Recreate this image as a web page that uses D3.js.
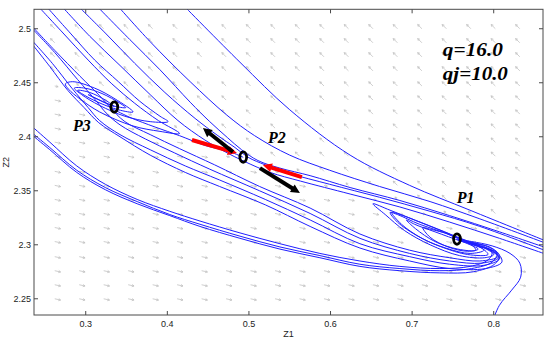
<!DOCTYPE html>
<html>
<head>
<meta charset="utf-8">
<script src="https://cdn.jsdelivr.net/npm/d3@7"></script>
<style>
    body { margin: 0; background: #fff; }
    svg { display: block; }
</style>
</head>
<body>
<div id="chart"></div>
<script>
// axes
const xDomain = [0.2366, 0.8604];
const yDomain = [2.235, 2.518];
const xTicks = [0.3, 0.4, 0.5, 0.6, 0.7, 0.8];
const xTickLabels = ["0.3", "0.4", "0.5", "0.6", "0.7", "0.8"];
const yTicks = [2.25, 2.3, 2.35, 2.4, 2.45, 2.5];
const yTickLabels = ["2.25", "2.3", "2.35", "2.4", "2.45", "2.5"];

// equilibrium points and their labels
const eqZ1 = [0.335, 0.493, 0.755];
const eqZ2 = [2.4275, 2.3812, 2.3053];
const eqNames = ["P3", "P2", "P1"];
const eqLabelZ1 = [0.2844, 0.5233, 0.7548];
const eqLabelZ2 = [2.4052, 2.3942, 2.3386];

// parameter text
const paramText = ["q=16.0", "qj=10.0"];
const paramZ1 = [0.7377, 0.7377];
const paramZ2 = [2.4747, 2.4525];

// quiver grid
const gridZ1 = [0.262, 0.292, 0.322, 0.352, 0.382, 0.412, 0.442, 0.472, 0.502, 0.532,
                0.562, 0.592, 0.622, 0.652, 0.682, 0.712, 0.742, 0.772, 0.802, 0.832];
const gridZ2 = [2.250, 2.263, 2.276, 2.289, 2.303, 2.316, 2.329, 2.342, 2.355, 2.368,
                2.382, 2.395, 2.408, 2.421, 2.434, 2.447, 2.461, 2.474, 2.487, 2.500];
// where the field flips from "up-left" to "right"
const flipZ1 = [0.20, 0.30, 0.49, 0.75, 0.90];
const flipZ2 = [2.46, 2.445, 2.381, 2.327, 2.30];
const fieldAngle = { above: 135, below: -12 };

// saddle direction arrows at P2: [tail, head]
const blackArrows = [
    [[0.4804, 2.3859], [0.4436, 2.4081]],
    [[0.5135, 2.3710], [0.5625, 2.3479]]
];
const redArrows = [
    [[0.4302, 2.3970], [0.4853, 2.3849]],
    [[0.5649, 2.3627], [0.5171, 2.3738]]
];

// trajectories, [z1, z2]
const trajU1 = [[0.418,2.523],[0.489,2.469],[0.550,2.425],[0.624,2.383],[0.697,2.355],[0.771,2.332],[0.869,2.302]];
const trajT6 = [[0.337,2.523],[0.379,2.488],[0.428,2.451],[0.473,2.420],[0.507,2.401],[0.550,2.383],[0.599,2.369],[0.660,2.354],[0.722,2.340],[0.783,2.324],[0.869,2.300]];
const trajT5 = [[0.311,2.523],[0.354,2.490],[0.391,2.462],[0.428,2.432],[0.452,2.414],[0.474,2.399],[0.491,2.388],[0.511,2.378],[0.538,2.371],[0.575,2.364],[0.624,2.353],[0.685,2.341],[0.746,2.327],[0.807,2.312],[0.869,2.296]];
const trajT4 = [[0.288,2.523],[0.324,2.496],[0.360,2.468],[0.397,2.441],[0.434,2.417],[0.462,2.401],[0.483,2.390],[0.499,2.381],[0.520,2.374],[0.550,2.366],[0.599,2.356],[0.660,2.344],[0.722,2.331],[0.783,2.317],[0.869,2.293]];
const trajT3 = [[0.268,2.523],[0.305,2.493],[0.342,2.466],[0.379,2.439],[0.413,2.415],[0.446,2.397],[0.471,2.386],[0.495,2.377],[0.526,2.367],[0.563,2.359],[0.624,2.347],[0.685,2.335],[0.746,2.321],[0.807,2.306],[0.869,2.290]];
const trajT1 = [[0.239,2.523],[0.271,2.497],[0.303,2.471],[0.332,2.449],[0.360,2.431],[0.389,2.415],[0.415,2.403],[0.391,2.405],[0.358,2.410],[0.317,2.423],[0.293,2.435],[0.279,2.444],[0.275,2.449],[0.284,2.451],[0.311,2.445],[0.336,2.435],[0.358,2.423],[0.340,2.425],[0.315,2.432],[0.295,2.440],[0.290,2.443],[0.305,2.441],[0.324,2.434],[0.335,2.428]];
const trajT2 = [[0.249,2.523],[0.281,2.496],[0.311,2.471],[0.340,2.451],[0.366,2.433],[0.391,2.419],[0.401,2.414],[0.379,2.414],[0.348,2.419],[0.317,2.429],[0.295,2.439],[0.286,2.445],[0.299,2.445],[0.320,2.440],[0.342,2.431],[0.349,2.427],[0.332,2.429],[0.311,2.436],[0.303,2.439],[0.317,2.434],[0.335,2.428]];
const trajLa = [[0.232,2.504],[0.262,2.480],[0.293,2.456],[0.317,2.438],[0.330,2.427],[0.348,2.414],[0.379,2.402],[0.415,2.389],[0.458,2.374],[0.513,2.354],[0.575,2.334],[0.636,2.310],[0.697,2.295],[0.746,2.288],[0.783,2.285],[0.805,2.289],[0.795,2.295],[0.771,2.302],[0.740,2.312],[0.703,2.323],[0.673,2.332],[0.652,2.338],[0.667,2.328],[0.691,2.313],[0.722,2.300],[0.758,2.290],[0.789,2.288],[0.800,2.291],[0.783,2.299],[0.752,2.308],[0.716,2.319],[0.685,2.328],[0.675,2.330],[0.687,2.319],[0.712,2.306],[0.741,2.297],[0.771,2.292],[0.788,2.295],[0.773,2.301],[0.758,2.305],[0.756,2.305]];
const trajLb = [[0.232,2.502],[0.262,2.478],[0.290,2.453],[0.313,2.433],[0.325,2.422],[0.342,2.411],[0.373,2.398],[0.409,2.385],[0.452,2.370],[0.513,2.350],[0.575,2.329],[0.636,2.306],[0.697,2.292],[0.746,2.285],[0.785,2.283],[0.806,2.288],[0.799,2.294],[0.771,2.301],[0.740,2.311],[0.709,2.319],[0.682,2.328],[0.673,2.330],[0.682,2.321],[0.707,2.308],[0.736,2.298],[0.768,2.291],[0.793,2.291],[0.785,2.297],[0.761,2.303],[0.728,2.312],[0.703,2.319],[0.693,2.323],[0.704,2.315],[0.728,2.303],[0.756,2.296],[0.778,2.295],[0.771,2.301],[0.756,2.305]];
const trajLc = [[0.232,2.491],[0.259,2.468],[0.283,2.445],[0.303,2.427],[0.317,2.415],[0.342,2.402],[0.379,2.388],[0.422,2.373],[0.464,2.360],[0.520,2.342],[0.575,2.323],[0.636,2.301],[0.697,2.289],[0.746,2.282],[0.788,2.281],[0.807,2.287],[0.800,2.294],[0.773,2.301],[0.744,2.310],[0.719,2.315],[0.713,2.316],[0.722,2.307],[0.744,2.298],[0.768,2.294],[0.781,2.296],[0.768,2.301],[0.756,2.305]];
const trajLd = [[0.232,2.488],[0.256,2.465],[0.278,2.443],[0.298,2.427],[0.316,2.413],[0.342,2.400],[0.379,2.383],[0.422,2.367],[0.464,2.354],[0.520,2.337],[0.575,2.317],[0.636,2.297],[0.697,2.285],[0.746,2.278],[0.790,2.278],[0.810,2.284],[0.805,2.292],[0.783,2.299],[0.756,2.304]];
const trajB1 = [[0.232,2.411],[0.256,2.395],[0.289,2.373],[0.324,2.356],[0.363,2.342],[0.403,2.331],[0.440,2.322],[0.489,2.311],[0.538,2.301],[0.587,2.292],[0.636,2.285],[0.685,2.280],[0.734,2.278],[0.771,2.280],[0.793,2.286],[0.798,2.293],[0.783,2.300],[0.761,2.304],[0.756,2.305]];
const trajB2 = [[0.232,2.405],[0.256,2.390],[0.289,2.369],[0.324,2.353],[0.363,2.340],[0.403,2.328],[0.440,2.319],[0.489,2.308],[0.538,2.298],[0.587,2.290],[0.636,2.282],[0.685,2.278],[0.734,2.276],[0.773,2.278],[0.798,2.284],[0.804,2.292],[0.790,2.299],[0.766,2.303],[0.756,2.305]];
const trajB3 = [[0.232,2.403],[0.256,2.388],[0.289,2.367],[0.324,2.351],[0.363,2.338],[0.403,2.327],[0.440,2.317],[0.489,2.306],[0.538,2.296],[0.587,2.288],[0.636,2.280],[0.685,2.276],[0.734,2.274],[0.775,2.275],[0.801,2.282],[0.807,2.290],[0.795,2.298],[0.771,2.302],[0.756,2.305]];
const trajR = [[0.798,2.228],[0.807,2.244],[0.822,2.258],[0.833,2.270],[0.832,2.283],[0.820,2.292],[0.798,2.299],[0.773,2.303],[0.756,2.305]];
const trajSM = [[0.330,2.427],[0.354,2.418],[0.385,2.409],[0.415,2.401],[0.446,2.392],[0.477,2.386],[0.493,2.381]];

const trajectories = [trajU1, trajT6, trajT5, trajT4, trajT3, trajT1, trajT2,
                      trajLa, trajLb, trajLc, trajLd, trajB1, trajB2, trajB3, trajR, trajSM];

const W = 550, H = 339;
const margin = { left: 34, top: 9.3, right: 7, bottom: 24 };

const svg = d3.select("#chart").append("svg")
    .attr("width", W)
    .attr("height", H);

const x = d3.scaleLinear().domain(xDomain).range([margin.left, W - margin.right]);
const y = d3.scaleLinear().domain(yDomain).range([H - margin.bottom, margin.top]);
const flip = d3.scaleLinear().domain(flipZ1).range(flipZ2);

svg.append("clipPath").attr("id", "plotClip")
    .append("rect")
    .attr("x", x(xDomain[0])).attr("y", y(yDomain[1]))
    .attr("width", x(xDomain[1]) - x(xDomain[0]))
    .attr("height", y(yDomain[0]) - y(yDomain[1]));

const plot = svg.append("g").attr("clip-path", "url(#plotClip)");

// quiver field
let field = [];
gridZ1.forEach(a => gridZ2.forEach(b => field.push({ z1: a, z2: b })));

const rad = Math.PI / 180;
plot.append("g")
    .attr("stroke", "#c2c2c2")
    .attr("stroke-width", 0.8)
    .attr("fill", "none")
    .selectAll("path")
    .data(field)
    .enter().append("path")
    .attr("d", d => {
        const gap = d.z2 - flip(d.z1);
        const ang = (gap > 0 ? fieldAngle.above : fieldAngle.below) * rad;
        const len = Math.abs(gap) < 0.007 ? 3.5 : 6;
        const x0 = x(d.z1), y0 = y(d.z2);
        const x1 = x0 + len * Math.cos(ang), y1 = y0 - len * Math.sin(ang);
        const h = 2.4;
        const a1 = ang + Math.PI - 0.5, a2 = ang + Math.PI + 0.5;
        return `M${x0},${y0}L${x1},${y1}` +
            `M${x1 + h * Math.cos(a1)},${y1 - h * Math.sin(a1)}L${x1},${y1}` +
            `L${x1 + h * Math.cos(a2)},${y1 - h * Math.sin(a2)}`;
    });

// trajectories
const line = d3.line()
    .x(d => x(d[0]))
    .y(d => y(d[1]))
    .curve(d3.curveCatmullRom.alpha(0.5));

plot.append("g")
    .attr("fill", "none")
    .attr("stroke", "#1f1fff")
    .attr("stroke-width", 1)
    .selectAll("path")
    .data(trajectories)
    .enter().append("path")
    .attr("d", line);

// thick direction arrows
function drawArrows(list, color) {
    const g = plot.append("g");
    list.forEach(([t, h]) => {
        const x0 = x(t[0]), y0 = y(t[1]), x1 = x(h[0]), y1 = y(h[1]);
        const L = Math.hypot(x1 - x0, y1 - y0);
        const ux = (x1 - x0) / L, uy = (y1 - y0) / L;
        const hl = 9, hw = 4.5;
        const bx = x1 - ux * hl, by = y1 - uy * hl;
        g.append("line")
            .attr("x1", x0).attr("y1", y0)
            .attr("x2", bx + ux).attr("y2", by + uy)
            .attr("stroke", color)
            .attr("stroke-width", 4);
        g.append("path")
            .attr("d", `M${x1},${y1}L${bx - uy * hw},${by + ux * hw}L${bx + uy * hw},${by - ux * hw}Z`)
            .attr("fill", color);
    });
}
drawArrows(redArrows, "#ff0000");
drawArrows(blackArrows, "#000");

// equilibrium markers
plot.append("g")
    .selectAll("ellipse")
    .data(eqZ1)
    .enter().append("ellipse")
    .attr("cx", (d, i) => x(d))
    .attr("cy", (d, i) => y(eqZ2[i]))
    .attr("rx", 3.4)
    .attr("ry", 5.2)
    .attr("fill", "none")
    .attr("stroke", "#000")
    .attr("stroke-width", 2.8);

// labels
svg.append("g")
    .attr("font-family", "'Liberation Serif', 'Times New Roman', serif")
    .attr("font-style", "italic")
    .attr("font-weight", "bold")
    .attr("font-size", 16)
    .selectAll("text")
    .data(eqNames)
    .enter().append("text")
    .attr("x", (d, i) => x(eqLabelZ1[i]))
    .attr("y", (d, i) => y(eqLabelZ2[i]))
    .text(d => d);

svg.append("g")
    .attr("font-family", "'Liberation Serif', 'Times New Roman', serif")
    .attr("font-style", "italic")
    .attr("font-weight", "bold")
    .attr("font-size", 18)
    .selectAll("text")
    .data(paramText)
    .enter().append("text")
    .attr("x", (d, i) => x(paramZ1[i]))
    .attr("y", (d, i) => y(paramZ2[i]))
    .attr("textLength", (d, i) => i === 0 ? 60 : 65)
    .attr("lengthAdjust", "spacingAndGlyphs")
    .text(d => d);

// axes box and inner ticks
const x0 = x(xDomain[0]), x1 = x(xDomain[1]), y0 = y(yDomain[0]), y1 = y(yDomain[1]);
const axis = svg.append("g").attr("stroke", "#4a4a4a").attr("stroke-width", 1);
axis.append("rect")
    .attr("x", x0).attr("y", y1)
    .attr("width", x1 - x0).attr("height", y0 - y1)
    .attr("fill", "none");
const tl = 4;
xTicks.forEach(t => {
    axis.append("line").attr("x1", x(t)).attr("x2", x(t)).attr("y1", y0).attr("y2", y0 - tl);
    axis.append("line").attr("x1", x(t)).attr("x2", x(t)).attr("y1", y1).attr("y2", y1 + tl);
});
yTicks.forEach(t => {
    axis.append("line").attr("x1", x0).attr("x2", x0 + tl).attr("y1", y(t)).attr("y2", y(t));
    axis.append("line").attr("x1", x1).attr("x2", x1 - tl).attr("y1", y(t)).attr("y2", y(t));
});

const tickText = svg.append("g")
    .attr("font-family", "'Liberation Sans', Arial, sans-serif")
    .attr("font-size", 9)
    .attr("fill", "#222");
tickText.selectAll(".xt")
    .data(xTicks)
    .enter().append("text")
    .attr("x", d => x(d))
    .attr("y", 327)
    .attr("text-anchor", "middle")
    .text((d, i) => xTickLabels[i]);
tickText.selectAll(".yt")
    .data(yTicks)
    .enter().append("text")
    .attr("x", x0 - 3)
    .attr("y", d => y(d))
    .attr("dy", "0.35em")
    .attr("text-anchor", "end")
    .text((d, i) => yTickLabels[i]);

tickText.append("text")
    .attr("x", (x0 + x1) / 2)
    .attr("y", 337)
    .attr("text-anchor", "middle")
    .text("Z1");
tickText.append("text")
    .attr("transform", `translate(9,${(y0 + y1) / 2}) rotate(-90)`)
    .attr("text-anchor", "middle")
    .text("Z2");
</script>
</body>
</html>
